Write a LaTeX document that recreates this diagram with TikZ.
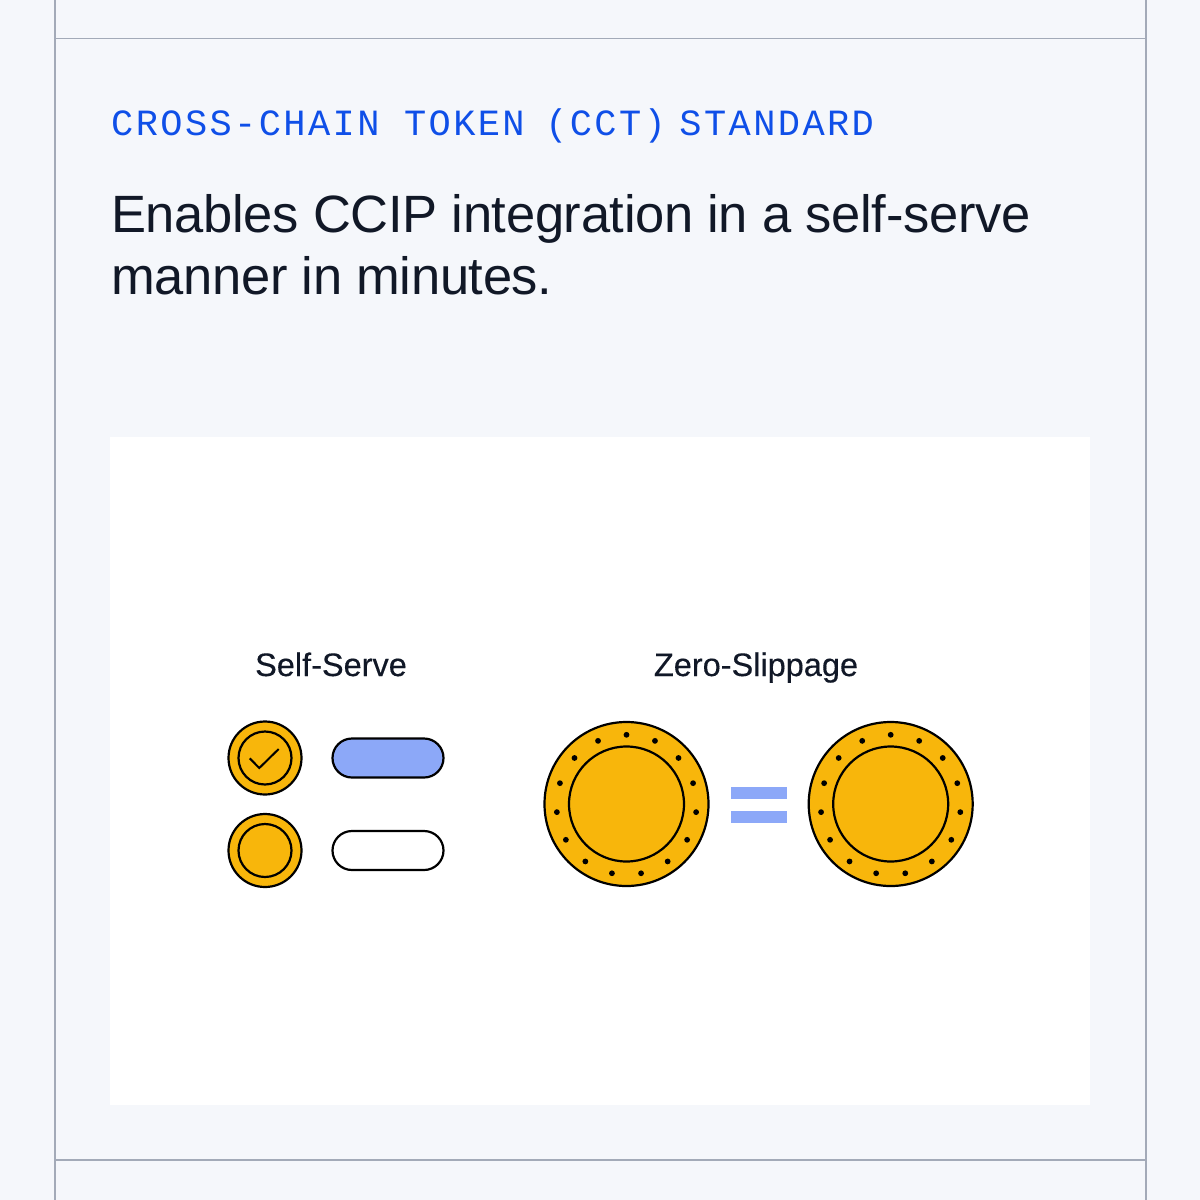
\documentclass[tikz,border=0pt]{standalone}
\usepackage{fontspec}
\setmainfont{Liberation Sans}
\newfontfamily\labelfont[LetterSpace=6.5]{Liberation Mono}
\newfontfamily\headfont[LetterSpace=-0.65]{Liberation Sans}
\newfontfamily\captionfont[FakeBold=0.3]{Liberation Sans}
\usetikzlibrary{positioning}

\definecolor{pagebg}{HTML}{F5F7FB}
\definecolor{rulegray}{HTML}{A3AAB8}
\definecolor{headblue}{HTML}{0F4FE8}
\definecolor{inkdark}{HTML}{111827}
\definecolor{coingold}{HTML}{F8B60B}
\definecolor{barblue}{HTML}{8CA8F8}

\begin{document}
\begin{tikzpicture}[
    x = 1pt, y = -1pt,
    outline/.style = {draw = black, line width = 2.2pt},
    coinbig/.style = {outline, circle, fill = coingold, minimum size = 164pt, inner sep = 0pt},
    coinbiginner/.style = {outline, circle, minimum size = 115pt, inner sep = 0pt},
    coinsmall/.style = {outline, circle, fill = coingold, minimum size = 73pt, inner sep = 0pt},
    coinsmallinner/.style = {outline, circle, minimum size = 53pt, inner sep = 0pt},
    pill/.style = {outline, rounded corners = 19.5pt, minimum width = 111pt, minimum height = 39pt, inner sep = 0pt},
    bar/.style = {fill = barblue, minimum width = 56pt, minimum height = 12pt, inner sep = 0pt},
    title/.style = {text = inkdark, inner sep = 0pt}
    ]

    % page and frame
    \useasboundingbox (0,0) rectangle (1200,1200);
    \fill[pagebg] (0,0) rectangle (1200,1200);
    \draw[rulegray, line width = 1.2pt] (55,0) -- (55,1200);
    \draw[rulegray, line width = 1.2pt] (1146,0) -- (1146,1200);
    \draw[rulegray, line width = 1.2pt] (55,38.5) -- (1146,38.5);
    \draw[rulegray, line width = 1.2pt] (55,1160) -- (1146,1160);
    \fill[white] (110,437) rectangle (1090,1105);

    % heading
    \node[title, anchor = base west, text = headblue] (tag) at (111,135.5)
        {\fontsize{37}{40}\labelfont CROSS-CHAIN TOKEN \kern-4pt(CCT)\kern-11pt{} STANDARD};
    \node[title, anchor = base west] (line1) at (111,232)
        {\fontsize{52.5}{60}\headfont Enables CCIP integration in a self-serve};
    \node[title, anchor = base west] (line2) at (111,294)
        {\fontsize{52.5}{60}\headfont manner in minutes.};

    % self-serve
    \node[title, anchor = base] (selfserve) at (331,676) {\fontsize{32.5}{36}\captionfont Self-Serve};
    \node[coinsmall] (s1) at (265,758) {};
    \node[coinsmallinner] (s1in) at (s1) {};
    \node[coinsmall] (s2) at (265,850.5) {};
    \node[coinsmallinner] (s2in) at (s2) {};
    \node[pill, fill = barblue] (p1) at (388,758) {};
    \node[pill, fill = white] (p2) at (388,850.5) {};
    \draw[black, line width = 2pt] (249.7,758.3) -- (259.3,768) -- (278.7,749);

    % zero-slippage
    \node[title, anchor = base] (zero) at (756,676) {\fontsize{32.5}{36}\captionfont Zero-Slippage};
    \foreach \name/\xc in {c1/626.5, c2/890.7} {
        \node[coinbig] (\name) at (\xc,804) {};
        \node[coinbiginner] (\name in) at (\name) {};
        \foreach \i in {0,...,14}
            \fill[black] (\name) ++(0,0.8) ++({90-24*\i}:70 and -70) circle (2.9pt);
    }
    \node[bar] (b1) at (759,792.5) {};
    \node[bar] (b2) at (759,817) {};
\end{tikzpicture}
\end{document}
